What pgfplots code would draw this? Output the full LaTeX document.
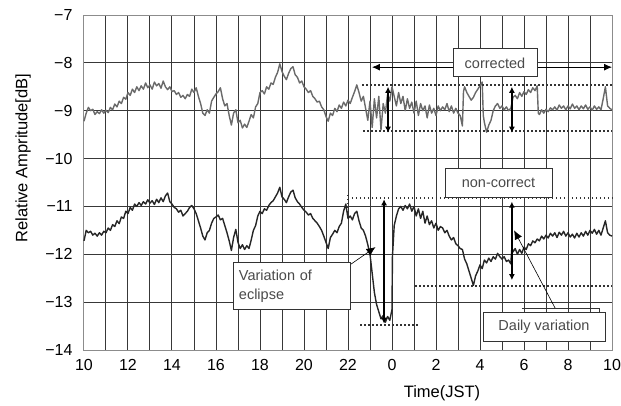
\documentclass[border=0pt]{standalone}
\usepackage{pgfplots}
\pgfplotsset{compat=1.18}
\usepackage{fontspec}
\setmainfont{Liberation Sans}
\usetikzlibrary{arrows.meta}
\definecolor{corrc}{HTML}{6A6A6A}
\definecolor{noncc}{HTML}{262626}
\definecolor{txtc}{HTML}{4A4A4A}
\begin{document}
\begin{tikzpicture}
\begin{axis}[
  scale only axis, width=528pt, height=335pt,
  xmin=10, xmax=34, ymin=-14, ymax=-7,
  xtick={10,12,...,34},
  xticklabels={10,12,14,16,18,20,22,0,2,4,6,8,10},
  minor xtick={11,13,...,33},
  ytick={-14,-13,...,-7},
  yticklabels={−14,−13,−12,−11,−10,−9,−8,−7},
  grid=both,
  major grid style={black!78, line width=1pt},
  minor grid style={black!78, line width=1pt},
  axis line style={black!45, line width=1pt},
  major tick length=0pt, minor tick length=0pt,
  tick label style={font=\fontsize{16}{18}\selectfont},
  /pgf/number format/assume math mode=true,
  xticklabel style={yshift=-6pt},
  yticklabel style={xshift=-8pt},
  xlabel={Time(JST)}, ylabel={Relative Ampritude[dB]},
  label style={font=\fontsize{16.5}{19}\selectfont},
  xlabel style={at={(axis description cs:0.678,-0.128)}, anchor=center},
  ylabel style={at={(axis description cs:-0.1155,0.573)}, anchor=center},
  clip=false,
]
\addplot[corrc, line width=1.4pt, line join=round] coordinates {
(10.0,-9.22)(10.1,-9.05)(10.2,-8.93)(10.3,-9.00)(10.4,-8.97)(10.5,-9.08)(10.6,-9.02)(10.7,-9.06)(10.8,-8.98)(10.9,-9.05)
(11.0,-8.99)(11.1,-9.04)(11.2,-8.93)(11.3,-8.98)(11.4,-8.86)(11.5,-8.92)(11.6,-8.80)(11.7,-8.85)(11.8,-8.72)(11.9,-8.76)
(12.0,-8.62)(12.1,-8.68)(12.2,-8.55)(12.3,-8.62)(12.4,-8.50)(12.5,-8.58)(12.6,-8.48)(12.7,-8.55)(12.8,-8.42)(12.9,-8.52)
(13.0,-8.46)(13.1,-8.55)(13.2,-8.40)(13.3,-8.48)(13.4,-8.43)(13.5,-8.53)(13.6,-8.38)(13.7,-8.50)(13.8,-8.56)(13.9,-8.50)
(14.0,-8.60)(14.1,-8.58)(14.2,-8.66)(14.3,-8.62)(14.4,-8.72)(14.5,-8.68)(14.6,-8.75)(14.7,-8.66)(14.8,-8.70)(14.9,-8.55)
(15.0,-8.62)(15.1,-8.52)(15.2,-8.70)(15.3,-8.85)(15.4,-9.05)(15.5,-9.10)(15.6,-8.98)(15.7,-9.05)(15.8,-8.80)(15.9,-8.72)
(16.0,-8.65)(16.1,-8.60)(16.2,-8.52)(16.3,-8.75)(16.4,-8.90)(16.5,-8.85)(16.6,-9.10)(16.7,-9.30)(16.8,-9.05)(16.9,-8.98)
(17.0,-9.25)(17.1,-9.20)(17.2,-9.36)(17.3,-9.28)(17.4,-9.35)(17.5,-9.22)(17.6,-9.08)(17.7,-9.15)(17.8,-8.92)(17.9,-8.85)
(18.0,-8.62)(18.1,-8.58)(18.2,-8.65)(18.3,-8.50)(18.4,-8.55)(18.5,-8.42)(18.6,-8.45)(18.7,-8.30)(18.8,-8.20)(18.9,-8.02)
(19.0,-8.18)(19.1,-8.28)(19.2,-8.35)(19.3,-8.22)(19.4,-8.12)(19.5,-8.08)(19.6,-8.25)(19.7,-8.30)(19.8,-8.42)(19.9,-8.38)
(20.0,-8.50)(20.1,-8.55)(20.2,-8.62)(20.3,-8.58)(20.4,-8.70)(20.5,-8.75)(20.6,-8.82)(20.7,-8.80)(20.8,-8.92)(20.9,-8.98)
(21.0,-9.12)(21.1,-9.22)(21.2,-9.05)(21.3,-9.10)(21.4,-8.95)(21.5,-9.02)(21.6,-8.88)(21.7,-8.95)(21.8,-8.82)(21.9,-8.90)
(22.0,-8.78)(22.1,-8.85)(22.2,-8.72)(22.3,-8.60)(22.4,-8.46)(22.5,-8.62)(22.6,-8.80)(22.7,-8.70)(22.8,-8.95)(22.9,-9.20)
(23.0,-8.80)(23.1,-9.35)(23.2,-8.75)(23.3,-9.15)(23.4,-8.70)(23.5,-9.40)(23.6,-8.85)(23.7,-9.05)(23.8,-8.65)(23.9,-8.80)
(24.0,-8.50)(24.1,-8.70)(24.2,-8.90)(24.3,-8.62)(24.4,-8.85)(24.5,-8.70)(24.6,-9.00)(24.7,-8.75)(24.8,-8.95)(24.9,-8.82)
(25.0,-9.05)(25.1,-8.80)(25.2,-9.10)(25.3,-8.85)(25.4,-9.00)(25.5,-8.90)(25.6,-9.15)(25.7,-8.88)(25.8,-9.05)(25.9,-8.95)
(26.0,-9.10)(26.1,-8.90)(26.2,-9.00)(26.3,-8.92)(26.4,-8.98)(26.5,-8.85)(26.6,-9.02)(26.7,-8.90)(26.8,-9.05)(26.9,-8.95)
(27.0,-9.05)(27.1,-9.10)(27.2,-9.32)(27.25,-8.60)(27.3,-8.50)(27.4,-8.62)(27.5,-8.70)(27.6,-8.78)(27.7,-8.72)(27.8,-8.62)
(27.9,-8.55)(28.0,-8.48)(28.1,-8.40)(28.15,-9.10)(28.2,-9.25)(28.3,-9.45)(28.4,-9.30)(28.5,-9.20)(28.6,-9.00)(28.7,-8.90)
(28.8,-8.85)(28.9,-8.95)(29.0,-8.90)(29.1,-8.98)(29.2,-8.92)(29.3,-9.00)(29.4,-8.95)(29.5,-8.72)(29.6,-8.68)(29.7,-8.75)
(29.8,-8.62)(29.9,-8.70)(30.0,-8.60)(30.1,-8.66)(30.2,-8.56)(30.3,-8.62)(30.4,-8.52)(30.5,-8.58)(30.6,-8.48)(30.65,-9.05)
(30.7,-9.08)(30.8,-8.98)(30.9,-9.05)(31.0,-8.97)(31.1,-9.02)(31.2,-8.94)(31.3,-8.98)(31.4,-8.92)(31.5,-8.99)(31.6,-8.88)
(31.7,-8.95)(31.8,-8.90)(31.9,-8.98)(32.0,-8.90)(32.1,-8.96)(32.2,-8.86)(32.3,-8.95)(32.4,-8.90)(32.5,-8.98)(32.6,-8.90)
(32.7,-8.96)(32.8,-8.88)(32.9,-8.97)(33.0,-8.92)(33.1,-8.99)(33.2,-8.90)(33.3,-8.97)(33.4,-8.92)(33.5,-8.98)(33.6,-8.75)
(33.7,-8.50)(33.8,-8.90)(33.9,-8.95)(34.0,-8.98)
};
\addplot[noncc, line width=1.4pt, line join=round] coordinates {
(10.0,-11.72)(10.1,-11.50)(10.2,-11.55)(10.3,-11.52)(10.4,-11.60)(10.5,-11.56)(10.6,-11.62)(10.7,-11.55)(10.8,-11.60)(10.9,-11.52)
(11.0,-11.55)(11.1,-11.45)(11.2,-11.50)(11.3,-11.38)(11.4,-11.42)(11.5,-11.30)(11.6,-11.36)(11.7,-11.22)(11.8,-11.25)(11.9,-11.10)
(12.0,-11.15)(12.1,-11.02)(12.2,-11.08)(12.3,-10.95)(12.4,-11.00)(12.5,-10.92)(12.6,-10.98)(12.7,-10.90)(12.8,-10.95)(12.9,-10.86)
(13.0,-10.93)(13.1,-10.88)(13.2,-10.96)(13.3,-10.85)(13.4,-10.92)(13.5,-10.82)(13.6,-10.90)(13.7,-10.78)(13.8,-10.72)(13.9,-10.90)
(14.0,-10.95)(14.1,-11.02)(14.2,-11.05)(14.3,-11.12)(14.4,-11.08)(14.5,-11.20)(14.6,-11.15)(14.7,-11.10)(14.8,-11.02)(14.9,-10.98)
(15.0,-11.05)(15.1,-11.15)(15.2,-11.30)(15.3,-11.45)(15.4,-11.62)(15.5,-11.70)(15.6,-11.55)(15.7,-11.50)(15.8,-11.35)(15.9,-11.25)
(16.0,-11.22)(16.1,-11.18)(16.2,-11.28)(16.3,-11.25)(16.4,-11.40)(16.5,-11.55)(16.6,-11.72)(16.7,-11.92)(16.8,-11.65)(16.9,-11.48)
(17.0,-11.75)(17.1,-11.88)(17.2,-11.80)(17.3,-11.90)(17.4,-11.82)(17.5,-11.88)(17.6,-11.70)(17.7,-11.50)(17.8,-11.40)(17.9,-11.20)
(18.0,-11.10)(18.1,-11.15)(18.2,-11.05)(18.3,-11.08)(18.4,-10.98)(18.5,-10.92)(18.6,-10.88)(18.7,-10.80)(18.8,-10.72)(18.9,-10.60)
(19.0,-10.80)(19.1,-10.85)(19.2,-10.92)(19.3,-10.80)(19.4,-10.70)(19.5,-10.66)(19.6,-10.82)(19.7,-10.90)(19.8,-10.95)(19.9,-11.02)
(20.0,-11.08)(20.1,-11.12)(20.2,-11.18)(20.3,-11.15)(20.4,-11.25)(20.5,-11.30)(20.6,-11.35)(20.7,-11.42)(20.8,-11.50)(20.9,-11.62)
(21.0,-11.75)(21.1,-11.88)(21.2,-11.65)(21.3,-11.58)(21.4,-11.50)(21.5,-11.55)(21.6,-11.42)(21.7,-11.35)(21.8,-11.10)(21.9,-10.95)
(22.0,-11.25)(22.1,-11.20)(22.2,-11.28)(22.3,-11.15)(22.4,-11.10)(22.5,-11.30)(22.6,-11.45)(22.7,-11.50)(22.8,-11.62)(22.9,-11.80)
(23.0,-12.00)(23.1,-12.40)(23.2,-12.80)(23.3,-13.05)(23.4,-13.20)(23.5,-13.35)(23.6,-13.28)(23.7,-13.42)(23.8,-13.30)(23.9,-13.38)
(24.0,-13.15)(24.02,-12.05)(24.1,-11.40)(24.2,-11.20)(24.3,-11.05)(24.4,-11.00)(24.5,-11.08)(24.6,-10.98)(24.7,-11.05)(24.8,-10.95)
(24.9,-11.10)(25.0,-11.00)(25.1,-11.20)(25.2,-11.05)(25.3,-11.25)(25.4,-11.10)(25.5,-11.35)(25.6,-11.20)(25.7,-11.38)(25.8,-11.30)
(25.9,-11.45)(26.0,-11.35)(26.1,-11.50)(26.2,-11.42)(26.3,-11.45)(26.4,-11.55)(26.5,-11.50)(26.6,-11.62)(26.7,-11.70)(26.8,-11.65)
(26.9,-11.78)(27.0,-11.82)(27.1,-11.88)(27.2,-11.90)(27.3,-12.10)(27.4,-12.20)(27.5,-12.35)(27.6,-12.50)(27.7,-12.65)(27.8,-12.45)
(27.9,-12.35)(28.0,-12.22)(28.1,-12.30)(28.2,-12.12)(28.3,-12.18)(28.4,-12.08)(28.5,-12.15)(28.6,-12.05)(28.7,-12.10)(28.8,-11.98)
(28.9,-12.05)(29.0,-12.10)(29.1,-12.05)(29.2,-12.15)(29.3,-12.12)(29.4,-12.20)(29.45,-11.85)(29.5,-11.95)(29.6,-11.88)(29.7,-12.00)
(29.8,-11.90)(29.9,-11.98)(30.0,-11.85)(30.1,-11.90)(30.2,-11.78)(30.3,-11.82)(30.4,-11.72)(30.5,-11.76)(30.6,-11.68)(30.7,-11.72)
(30.8,-11.62)(30.9,-11.68)(31.0,-11.60)(31.1,-11.66)(31.2,-11.56)(31.3,-11.62)(31.4,-11.55)(31.5,-11.65)(31.6,-11.54)(31.7,-11.60)
(31.8,-11.52)(31.9,-11.62)(32.0,-11.55)(32.1,-11.64)(32.2,-11.58)(32.3,-11.66)(32.4,-11.56)(32.5,-11.64)(32.6,-11.55)(32.7,-11.62)
(32.8,-11.52)(32.9,-11.60)(33.0,-11.50)(33.1,-11.56)(33.2,-11.48)(33.3,-11.58)(33.4,-11.50)(33.5,-11.60)(33.6,-11.45)(33.7,-11.30)
(33.8,-11.55)(33.9,-11.60)(34.0,-11.62)
};
% dotted reference lines
\begin{scope}[black!80, line width=1.6pt, dash pattern=on 1.5pt off 2.5pt]
\draw (axis cs:22.64,-8.46) -- (axis cs:34,-8.46);
\draw (axis cs:22.70,-9.42) -- (axis cs:34,-9.42);
\draw (axis cs:22.18,-10.82) -- (axis cs:34,-10.82);
\draw (axis cs:22.0,-10.76) -- (axis cs:22.0,-11.15);
\draw (axis cs:25.05,-12.66) -- (axis cs:34,-12.66);
\draw (axis cs:22.55,-13.48) -- (axis cs:25.18,-13.48);
\end{scope}
% arrows
\draw[black, line width=0.8pt, {Latex[length=8pt,width=7pt]}-{Latex[length=8pt,width=7pt]}] (axis cs:23.09,-8.09) -- (axis cs:34,-8.09);
\draw[black, line width=1.6pt, {Latex[length=6pt,width=6pt]}-{Latex[length=6pt,width=6pt]}] (axis cs:23.82,-8.50) -- (axis cs:23.82,-9.46);
\draw[black, line width=1.6pt, {Latex[length=6pt,width=6pt]}-{Latex[length=6pt,width=6pt]}] (axis cs:29.45,-8.50) -- (axis cs:29.45,-9.46);
\draw[black, line width=1.6pt, {Latex[length=6pt,width=6pt]}-{Latex[length=6pt,width=6pt]}] (axis cs:23.64,-10.85) -- (axis cs:23.64,-13.45);
\draw[black, line width=1.6pt, {Latex[length=6pt,width=6pt]}-{Latex[length=6pt,width=6pt]}] (axis cs:29.45,-10.90) -- (axis cs:29.45,-12.54);
% callouts
\draw[black, line width=0.6pt, -{Latex[length=9pt,width=8pt]}] (axis cs:22.09,-12.22) -- (axis cs:23.25,-11.85);
\draw[black, line width=0.6pt, -{Latex[length=9pt,width=8pt]}] (axis cs:31.41,-13.12) -- (axis cs:29.55,-11.50);
% boxes
\node[draw=black!80, line width=0.9pt, fill=white, minimum width=84pt, minimum height=28pt, inner sep=0pt, text=txtc, font=\fontsize{14.5}{17}\selectfont] at (axis cs:28.68,-8.0) {corrected};
\node[draw=black!80, line width=0.9pt, fill=white, minimum width=107pt, minimum height=29pt, inner sep=0pt, text=txtc, font=\fontsize{14.5}{17}\selectfont] at (axis cs:28.84,-10.5) {non-correct};
\node[draw=black!80, line width=0.9pt, fill=white, minimum width=117pt, minimum height=47pt, inner sep=0pt, text=txtc, font=\fontsize{14.5}{19}\selectfont, align=left, text width=105pt] at (axis cs:19.43,-12.67) {Variation of\\eclipse};
\draw[black!80, line width=0.9pt] (axis cs:29.9,-13.13) -- (axis cs:33.45,-13.13) -- (axis cs:33.45,-13.2);
\node[draw=black!80, line width=0.9pt, fill=white, minimum width=122pt, minimum height=29pt, inner sep=0pt, text=txtc, font=\fontsize{14.5}{17}\selectfont] at (axis cs:30.91,-13.52) {Daily variation};
\end{axis}
\pgfresetboundingbox
\path (current axis.south west) ++(-84pt,-55pt) rectangle ++(621pt,405pt);
\end{tikzpicture}
\end{document}
